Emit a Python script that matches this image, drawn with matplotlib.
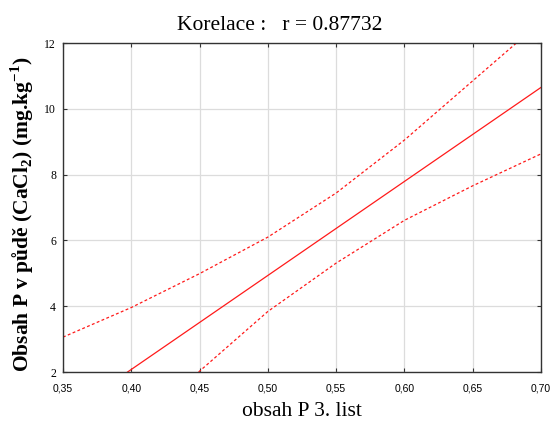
import matplotlib.pyplot as plt
import matplotlib.ticker as ticker

plt.rcParams['mathtext.fontset'] = 'custom'
plt.rcParams['mathtext.rm'] = 'Liberation Serif'
plt.rcParams['mathtext.bf'] = 'Liberation Serif:bold'

# regression line (obsah P 3. list vs obsah P v pude)
fit_x = [0.3973, 0.70]
fit_y = [2.0, 10.65]

# confidence band, upper
upper_x = [0.35, 0.40, 0.45, 0.50, 0.55, 0.60, 0.65, 0.682]
upper_y = [3.06, 3.96, 4.99, 6.10, 7.44, 9.05, 10.85, 12.0]

# confidence band, lower
lower_x = [0.4493, 0.50, 0.55, 0.60, 0.65, 0.70]
lower_y = [2.0, 3.84, 5.31, 6.61, 7.66, 8.63]

x_ticks = [0.35, 0.40, 0.45, 0.50, 0.55, 0.60, 0.65, 0.70]
y_ticks = [2, 4, 6, 8, 10, 12]

W, H = 554, 423
fig = plt.figure(figsize=(W/100, H/100), dpi=100)
ax = fig.add_axes([63/W, 1 - 372/H, (541-63)/W, (372-43)/H])

red = '#ff1a1a'
ax.plot(fit_x, fit_y, color=red, lw=0.9)
ax.plot(upper_x, upper_y, color=red, lw=0.9, ls=(0, (2.3, 1.9)))
ax.plot(lower_x, lower_y, color=red, lw=0.9, ls=(0, (2.3, 1.9)))

ax.set_xlim(0.35, 0.70)
ax.set_ylim(2, 12)
ax.set_xticks(x_ticks)
ax.set_yticks(y_ticks)
ax.xaxis.set_major_formatter(ticker.FuncFormatter(lambda v, p: f'{v:.2f}'.replace('.', ',')))
ax.grid(True, color='#dcdcdc', lw=0.9)
ax.set_axisbelow(True)
ax.tick_params(direction='in', length=3, width=0.8, top=True, right=True, color='#333333')
ax.tick_params(axis='x', pad=8)
ax.tick_params(axis='y', pad=5)
for lab in ax.get_xticklabels():
    lab.set_fontfamily('Liberation Sans')
    lab.set_fontsize(7.5)
for lab in ax.get_yticklabels():
    lab.set_fontfamily('Liberation Serif')
    lab.set_fontsize(8.5)
for s in ax.spines.values():
    s.set_color('#333333')
    s.set_linewidth(1.0)

fig.text(280/W, 1 - 30/H, 'Korelace :   r = 0.87732', fontfamily='Liberation Serif',
         fontsize=15.5, ha='center', va='baseline')
fig.text(302/W, 1 - 416/H, 'obsah P 3. list', fontfamily='Liberation Serif',
         fontsize=15.5, ha='center', va='baseline')
fig.text(22/W, 1 - 214/H, r'Obsah P v půdě (CaCl$_\mathbf{2}$) (mg.kg$^\mathbf{-1}$)',
         fontfamily='Liberation Serif', fontsize=15.5, fontweight='bold',
         rotation=90, ha='center', va='center')

fig.savefig('out.png', dpi=100)
